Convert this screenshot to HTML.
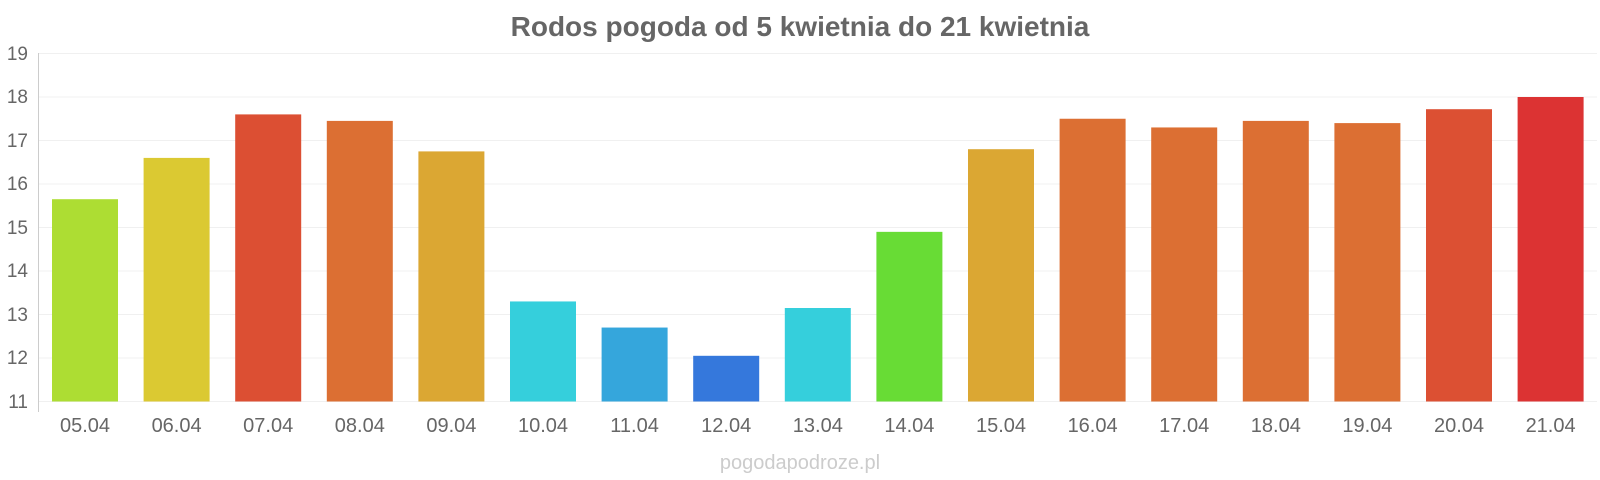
<!DOCTYPE html>
<html><head><meta charset="utf-8"><style>
body{margin:0;background:#fff;}
svg{display:block;font-family:"Liberation Sans",sans-serif;}
</style></head><body>
<svg width="1600" height="480" viewBox="0 0 1600 480">
<text x="800" y="36" text-anchor="middle" font-size="28" font-weight="bold" fill="#666">Rodos pogoda od 5 kwietnia do 21 kwietnia</text>
<g stroke="#f0f0f0" stroke-width="1">
<line x1="38" x2="1597" y1="53.5" y2="53.5"/><line x1="38" x2="1597" y1="97" y2="97"/>
<line x1="38" x2="1597" y1="140.5" y2="140.5"/><line x1="38" x2="1597" y1="184" y2="184"/>
<line x1="38" x2="1597" y1="227.5" y2="227.5"/><line x1="38" x2="1597" y1="271" y2="271"/>
<line x1="38" x2="1597" y1="314.5" y2="314.5"/><line x1="38" x2="1597" y1="358" y2="358"/>
<line x1="38" x2="1597" y1="401.5" y2="401.5"/>
</g>
<line x1="38.5" x2="38.5" y1="53" y2="412" stroke="#ccc"/>
<g font-size="19" fill="#666" text-anchor="end">
<text x="28" y="60">19</text><text x="28" y="103">18</text><text x="28" y="147">17</text>
<text x="28" y="190">16</text><text x="28" y="234">15</text><text x="28" y="277">14</text>
<text x="28" y="321">13</text><text x="28" y="364">12</text><text x="28" y="408">11</text>
</g>
<g>
<rect x="52" y="199.2" width="66" height="202.3" fill="#addd33"/>
<rect x="143.6" y="157.9" width="66" height="243.6" fill="#dbc932"/>
<rect x="235.2" y="114.4" width="66" height="287.1" fill="#dc4f33"/>
<rect x="326.8" y="120.9" width="66" height="280.6" fill="#dc6f33"/>
<rect x="418.4" y="151.4" width="66" height="250.1" fill="#dba733"/>
<rect x="510" y="301.45" width="66" height="100.05" fill="#35cfdc"/>
<rect x="601.6" y="327.55" width="66" height="73.95" fill="#35a6dc"/>
<rect x="693.2" y="355.8" width="66" height="45.7" fill="#3578dc"/>
<rect x="784.8" y="308" width="66" height="93.5" fill="#35cfdc"/>
<rect x="876.4" y="231.85" width="66" height="169.65" fill="#68dc35"/>
<rect x="968" y="149.2" width="66" height="252.3" fill="#dba733"/>
<rect x="1059.6" y="118.75" width="66" height="282.75" fill="#dc6f33"/>
<rect x="1151.2" y="127.45" width="66" height="274.05" fill="#dc6f33"/>
<rect x="1242.8" y="120.9" width="66" height="280.6" fill="#dc6f33"/>
<rect x="1334.4" y="123.1" width="66" height="278.4" fill="#dc6f33"/>
<rect x="1426" y="109.2" width="66" height="292.3" fill="#dc5033"/>
<rect x="1517.6" y="97" width="66" height="304.5" fill="#dc3333"/>
</g>
<g font-size="20" fill="#666" text-anchor="middle">
<text x="85" y="432">05.04</text><text x="176.6" y="432">06.04</text><text x="268.2" y="432">07.04</text>
<text x="359.8" y="432">08.04</text><text x="451.4" y="432">09.04</text><text x="543" y="432">10.04</text>
<text x="634.6" y="432">11.04</text><text x="726.2" y="432">12.04</text><text x="817.8" y="432">13.04</text>
<text x="909.4" y="432">14.04</text><text x="1001" y="432">15.04</text><text x="1092.6" y="432">16.04</text>
<text x="1184.2" y="432">17.04</text><text x="1275.8" y="432">18.04</text><text x="1367.4" y="432">19.04</text>
<text x="1459" y="432">20.04</text><text x="1550.6" y="432">21.04</text>
</g>
<text x="800" y="469" text-anchor="middle" font-size="20" fill="#ccc">pogodapodroze.pl</text>
</svg>
</body></html>
